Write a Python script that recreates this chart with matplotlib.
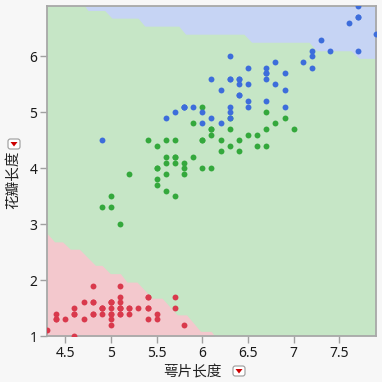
import matplotlib
matplotlib.use("Agg")
import matplotlib.pyplot as plt
from matplotlib.patches import FancyBboxPatch, Polygon

plt.rcParams['font.family'] = ['Noto Sans', 'DejaVu Sans']

# Iris data: sepal length (萼片长度) vs petal length (花瓣长度)
setosa_sl = [5.1,4.9,4.7,4.6,5.0,5.4,4.6,5.0,4.4,4.9,5.4,4.8,4.8,4.3,5.8,5.7,5.4,5.1,5.7,5.1,
             5.4,5.1,4.6,5.1,4.8,5.0,5.0,5.2,5.2,4.7,4.8,5.4,5.2,5.5,4.9,5.0,5.5,4.9,4.4,5.1,
             5.0,4.5,4.4,5.0,5.1,4.8,5.1,4.6,5.3,5.0]
setosa_pl = [1.4,1.4,1.3,1.5,1.4,1.7,1.4,1.5,1.4,1.5,1.5,1.6,1.4,1.1,1.2,1.5,1.3,1.4,1.7,1.5,
             1.7,1.5,1.0,1.7,1.9,1.6,1.6,1.5,1.4,1.6,1.6,1.5,1.5,1.4,1.5,1.2,1.3,1.5,1.3,1.5,
             1.3,1.3,1.3,1.6,1.9,1.4,1.6,1.4,1.5,1.4]
versicolor_sl = [7.0,6.4,6.9,5.5,6.5,5.7,6.3,4.9,6.6,5.2,5.0,5.9,6.0,6.1,5.6,6.7,5.6,5.8,6.2,5.6,
                 5.9,6.1,6.3,6.1,6.4,6.6,6.8,6.7,6.0,5.7,5.5,5.5,5.8,6.0,5.4,6.0,6.7,6.3,5.6,5.5,
                 5.5,6.1,5.8,5.0,5.6,5.7,5.7,6.2,5.1,5.7]
versicolor_pl = [4.7,4.5,4.9,4.0,4.6,4.5,4.7,3.3,4.6,3.9,3.5,4.2,4.0,4.7,3.6,4.4,4.5,4.1,4.5,3.9,
                 4.8,4.0,4.9,4.7,4.3,4.4,4.8,5.0,4.5,3.5,3.8,3.7,3.9,5.1,4.5,4.5,4.7,4.4,4.1,4.0,
                 4.4,4.6,4.0,3.3,4.2,4.2,4.2,4.3,3.0,4.1]
virginica_sl = [6.3,5.8,7.1,6.3,6.5,7.6,4.9,7.3,6.7,7.2,6.5,6.4,6.8,5.7,5.8,6.4,6.5,7.7,7.7,6.0,
                6.9,5.6,7.7,6.3,6.7,7.2,6.2,6.1,6.4,7.2,7.4,7.9,6.4,6.3,6.1,7.7,6.3,6.4,6.0,6.9,
                6.7,6.9,5.8,6.8,6.7,6.7,6.3,6.5,6.2,5.9]
virginica_pl = [6.0,5.1,5.9,5.6,5.8,6.6,4.5,6.3,5.8,6.1,5.1,5.3,5.5,5.0,5.1,5.3,5.5,6.7,6.9,5.0,
                5.7,4.9,6.7,4.9,5.7,6.0,4.8,4.9,5.6,5.8,6.1,6.4,5.6,5.1,5.6,6.1,5.6,5.5,4.8,5.4,
                5.6,5.1,5.1,5.9,5.7,5.2,5.0,5.2,5.4,5.1]

# Classification region boundaries
virginica_bx = [4.712,4.748,4.931,5.011,5.296,5.37,5.742,5.816,6.455,6.539,7.168,7.248,7.625,7.716,7.9]
virginica_by = [6.9,6.82,6.82,6.683,6.683,6.54,6.54,6.396,6.396,6.252,6.252,6.10,6.10,5.964,5.964]
setosa_bx = [4.3,4.383,4.47,4.555,4.654,4.829,4.901,4.993,5.103,5.175,5.285,5.45,5.559,5.724,5.827,5.98,6.097,6.134]
setosa_by = [2.835,2.683,2.683,2.552,2.552,2.264,2.264,2.115,2.115,1.964,1.964,1.676,1.676,1.378,1.378,1.083,1.083,1.0]

x_ticks = [4.5,5,5.5,6,6.5,7,7.5]
x_ticklabels = ["4.5","5","5.5","6","6.5","7","7.5"]
y_ticks = [1,2,3,4,5,6]
y_ticklabels = ["1","2","3","4","5","6"]
xlim = (4.3, 7.9)
ylim = (1.0, 6.9)

fig = plt.figure(figsize=(3.82, 3.82), dpi=100, facecolor='#F7F7F7')
ax = fig.add_axes([47/382, 1-336/382, (376-47)/382, (336-6)/382])
ax.set_facecolor('#C6E6C6')

ax.fill_between(virginica_bx, virginica_by, ylim[1], color='#C6D4F4', lw=0, zorder=1)
ax.fill_between(setosa_bx, ylim[0], setosa_by, color='#F3C8CD', lw=0, zorder=1)

ax.scatter(setosa_sl, setosa_pl, s=18, color='#D9394C', lw=0, zorder=3)
ax.scatter(versicolor_sl, versicolor_pl, s=18, color='#34A83C', lw=0, zorder=3)
ax.scatter(virginica_sl, virginica_pl, s=18, color='#3D6DDB', lw=0, zorder=3)

ax.set_xlim(*xlim)
ax.set_ylim(*ylim)
ax.set_xticks(x_ticks)
ax.set_xticklabels(x_ticklabels)
ax.set_yticks(y_ticks)
ax.set_yticklabels(y_ticklabels)
ax.tick_params(direction='out', length=5, width=1, color='#A0A0A0', labelsize=10,
               labelcolor='#1A1A1A', pad=2)
for sp in ax.spines.values():
    sp.set_color('#A8A8A8')
    sp.set_linewidth(1.3)

cjk = ['Noto Sans CJK SC', 'DejaVu Sans']
fig.text(192/382, 1-372/382, '萼片长度', family=cjk, fontsize=10.5, color='#222222',
         ha='center', va='center')
fig.text(14/382, 1-180/382, '花瓣长度', family=cjk, fontsize=10.5, color='#222222',
         ha='center', va='center', rotation=90)

def icon(cx, cy):
    w, h = 12, 10
    box = FancyBboxPatch(((cx - w/2)/382, 1-(cy + h/2)/382), w/382, h/382,
                         boxstyle='round,pad=0,rounding_size=0.006',
                         transform=fig.transFigure, facecolor='white',
                         edgecolor='#9A9A9A', lw=0.8)
    fig.patches.append(box)
    tri = Polygon([((cx-3.5)/382, 1-(cy-2)/382), ((cx+3.5)/382, 1-(cy-2)/382),
                   (cx/382, 1-(cy+2.5)/382)], closed=True, transform=fig.transFigure,
                  facecolor='#CC0000', edgecolor='none')
    fig.patches.append(tri)

icon(239, 371)
icon(14, 144)

fig.savefig('out.png', dpi=100, facecolor=fig.get_facecolor())
